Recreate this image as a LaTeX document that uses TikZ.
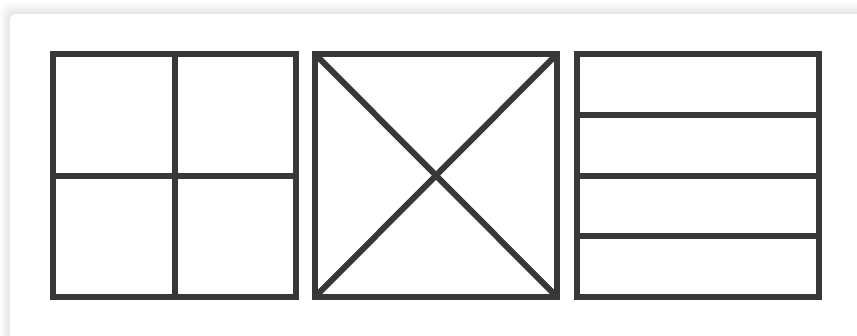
\documentclass[tikz,border=0pt]{standalone}
\usetikzlibrary{calc}
\definecolor{inkgray}{HTML}{383838}
\tikzset{
  card-shadow/.style={fill=black,fill opacity=0.013,rounded corners=9pt},
  card/.style={fill=white,rounded corners=6pt},
  frame/.style={draw=inkgray,line width=6pt},
  divider/.style={draw=inkgray,line width=6pt},
}

\begin{document}
\begin{tikzpicture}[x=1pt,y=-1pt]

  \useasboundingbox (0,0) rectangle (857,335);
  \fill[white] (0,0) rectangle (857,335);

  % card with soft shadow
  \foreach \s in {1,...,8}
    \fill[card-shadow] ({10-1.2*\s},{14-1.4*\s}) rectangle (890,370);
  \fill[card] (10,14) rectangle (890,370);

  % corners of the three squares
  \coordinate (a-nw) at (53,54);   \coordinate (a-se) at (296,297);
  \coordinate (b-nw) at (315,54);  \coordinate (b-se) at (557,297);
  \coordinate (c-nw) at (577,54);  \coordinate (c-se) at (819,297);

  % SQUARE 1: four quarters
  \draw[divider] ($(a-nw)!0.5!(a-se |- a-nw)$) -- ($(a-nw |- a-se)!0.5!(a-se)$);
  \draw[divider] ($(a-nw)!0.5!(a-nw |- a-se)$) -- ($(a-se |- a-nw)!0.5!(a-se)$);
  \draw[frame] (a-nw) rectangle (a-se);

  % SQUARE 2: diagonals
  \draw[divider] (b-nw) -- (b-se);
  \draw[divider] (b-nw |- b-se) -- (b-se |- b-nw);
  \draw[frame] (b-nw) rectangle (b-se);

  % SQUARE 3: four bands
  \foreach \f in {0.25,0.5,0.75}
    \draw[divider] ($(c-nw)!\f!(c-nw |- c-se)$) -- ($(c-se |- c-nw)!\f!(c-se)$);
  \draw[frame] (c-nw) rectangle (c-se);

\end{tikzpicture}
\end{document}
